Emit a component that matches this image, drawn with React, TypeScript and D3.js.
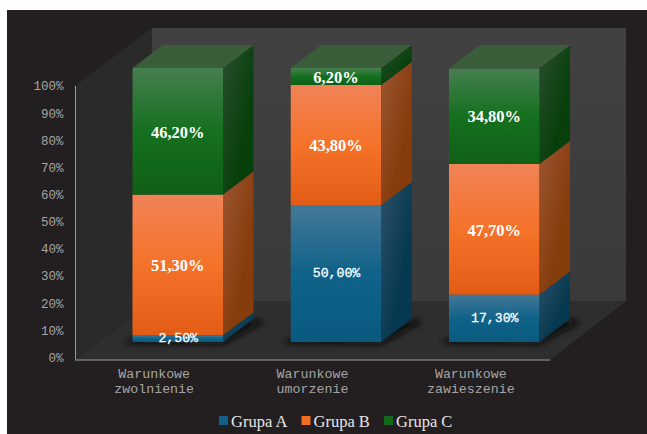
import React from "react";
import * as d3 from "d3";

const categories = [["Warunkowe", "zwolnienie"], ["Warunkowe", "umorzenie"], ["Warunkowe", "zawieszenie"]];
const seriesNames = ["Grupa A", "Grupa B", "Grupa C"];
const grupaA = [2.5, 50.0, 17.3];
const grupaB = [51.3, 43.8, 47.7];
const grupaC = [46.2, 6.2, 34.8];
const valueLabels = [["2,50%", "50,00%", "17,30%"], ["51,30%", "43,80%", "47,70%"], ["46,20%", "6,20%", "34,80%"]];
const yTicks = d3.range(0, 101, 10);

const palettes = [
  { front: ["#457897", "#0f6289", "#0a5a80"], side: ["#2d5068", "#05394f"], legend: "#13618a" },
  { front: ["#f08357", "#f57229", "#e35c15"], side: ["#9c5634", "#873c0c"], legend: "#f26c23" },
  { front: ["#467f4f", "#15701f", "#0f6015"], side: ["#2a4e2f", "#08400c"], legend: "#14691c" },
];

const W = 647, H = 434;
const depthX = 30.5, depthY = -23;
const keys = [0, 1, 2];
const rows = categories.map((_, i) => ({ i, 0: grupaA[i], 1: grupaB[i], 2: grupaC[i] }));
const stacked = d3.stack<any>().keys(keys as any)(rows);

const x = d3.scaleBand<number>().domain([0, 1, 2]).range([132.5, 539.5]).paddingInner(0.428).paddingOuter(0);
const y = d3.scaleLinear().domain([0, 100]).range([342, 68]);
const catX = d3.scaleBand<number>().domain([0, 1, 2]).range([75, 550]);
const poly = d3.line();

const mono = "'Liberation Mono', monospace";
const serif = "'Liberation Serif', serif";

export default function App() {
  const bw = x.bandwidth();
  return (
    <svg width={W} height={H} style={{ position: "absolute", left: 0, top: 0, display: "block" }}>
      <defs>
        {palettes.map((p, i) => (
          <React.Fragment key={i}>
            <linearGradient id={`front${i}`} x1="0" y1="0" x2="0" y2="1">
              <stop offset="0" stopColor={p.front[0]} />
              <stop offset="0.5" stopColor={p.front[1]} />
              <stop offset="1" stopColor={p.front[2]} />
            </linearGradient>
            <linearGradient id={`side${i}`} x1="0" y1="0" x2="1" y2="1">
              <stop offset="0" stopColor={p.side[0]} />
              <stop offset="0.65" stopColor={p.side[1]} />
              <stop offset="1" stopColor={p.side[1]} />
            </linearGradient>
          </React.Fragment>
        ))}
        <linearGradient id="wall" x1="0" y1="0" x2="0" y2="1">
          <stop offset="0" stopColor="#414141" />
          <stop offset="1" stopColor="#3a3a3a" />
        </linearGradient>
        <filter id="blur" x="-30%" y="-50%" width="160%" height="200%">
          <feGaussianBlur stdDeviation="3" />
        </filter>
      </defs>

      <rect x={7} y={10} width={W - 7} height={H - 10} fill="#231f20" />
      <rect x={152} y={28} width={474} height={273} fill="url(#wall)" />
      <path d={poly([[75, 86], [152, 28], [152, 301], [75, 360]] as any)!} fill="#2a2a2a" />
      <path d={poly([[75, 360], [152, 301], [626, 301], [550, 360]] as any)!} fill="#2e2e2e" />
      <line x1={75.5} x2={75.5} y1={86} y2={360} stroke="#9a9a9a" />
      <line x1={75} x2={550} y1={360} y2={360} stroke="#777" strokeWidth={1.5} />

      {yTicks.map((t, i) => (
        <text key={t} x={63.5} y={357.5 - i * 27.15} dy="0.35em" textAnchor="end" fill="#a5a5a5"
          fontFamily={mono} fontSize={12.5}>{t}%</text>
      ))}

      {categories.map((lines, i) => (
        <text key={i} textAnchor="middle" fill="#a5a5a5" fontFamily={mono} fontSize={13.3}>
          {lines.map((l, j) => (
            <tspan key={j} x={catX(i)! + catX.bandwidth() / 2} y={378 + j * 15}>{l}</tspan>
          ))}
        </text>
      ))}

      {categories.map((_, i) => {
        const x0 = x(i)!, x1 = x0 + bw, b = y(0);
        return (
          <path key={i} filter="url(#blur)" fill="#0b0b0b"
            d={poly([[x0 - 10, b + 1], [x1, b + 2], [x1 + depthX + 12, b + depthY + 2], [x1 + 10, b + depthY], [x0, b - 3]] as any)!} />
        );
      })}

      {categories.map((_, i) => {
        const x0 = x(i)!, x1 = x0 + bw;
        const top = y(100);
        return (
          <g key={i}>
            {stacked.map((s, k) => {
              const yb = y(s[i][0]), yt = y(s[i][1]);
              return (
                <g key={k}>
                  <rect x={x0} y={yt} width={bw} height={yb - yt} fill={`url(#front${k})`} />
                  <path fill={`url(#side${k})`}
                    d={poly([[x1, yb], [x1, yt], [x1 + depthX, yt + depthY], [x1 + depthX, yb + depthY]] as any)!} />
                </g>
              );
            })}
            <path fill="#3b5e3a"
              d={poly([[x0, top], [x1, top], [x1 + depthX, top + depthY], [x0 + depthX, top + depthY]] as any)!} />
          </g>
        );
      })}

      {stacked.map((s, k) =>
        categories.map((_, i) => {
          const cx = x(i)! + bw / 2;
          const isA = k === 0;
          const cy = (y(s[i][0]) + y(s[i][1])) / 2 + (isA ? -1 : 0.5);
          return (
            <text key={`${k}-${i}`} x={cx + (isA ? 0.5 : 0)} y={cy} dy="0.35em" textAnchor="middle" fill="#fff"
              fontFamily={isA ? mono : serif} fontWeight={isA ? 400 : 700} fontSize={isA ? 13.2 : 16.5}
              stroke={isA ? "#fff" : "none"} strokeWidth={isA ? 0.3 : 0}>
              {valueLabels[k][i]}
            </text>
          );
        })
      )}

      {seriesNames.map((n, k) => {
        const lx = d3.scaleLinear().domain([0, 2]).range([219, 384])(k);
        return (
          <g key={n}>
            <rect x={lx} y={416} width={9} height={9} fill={palettes[k].legend} />
            <text x={lx + 12} y={421} dy="0.35em" fill="#e6e6e6" fontFamily={serif} fontSize={16.5}>{n}</text>
          </g>
        );
      })}
    </svg>
  );
}
